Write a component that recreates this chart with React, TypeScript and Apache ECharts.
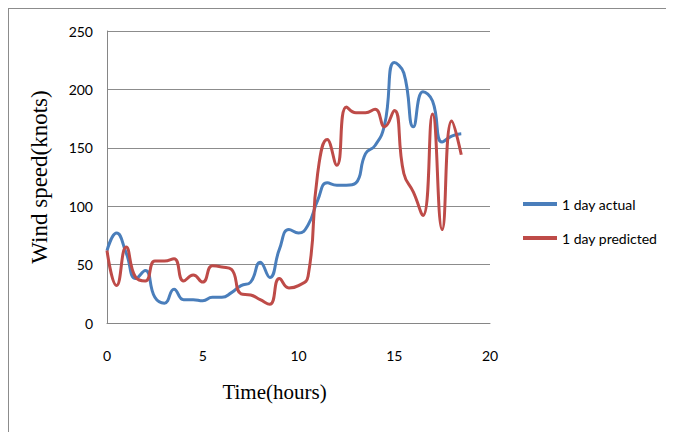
import React, { useEffect, useRef } from "react";
import * as echarts from "echarts";

// Hours, sampled every half hour
const hours: number[] = [
  0, 0.5, 1, 1.5, 2, 2.5, 3, 3.5, 4, 4.5, 5, 5.5, 6, 6.5, 7, 7.5, 8, 8.5, 9, 9.5,
  10, 10.5, 11, 11.5, 12, 12.5, 13, 13.5, 14, 14.5, 15, 15.5, 16, 16.5, 17, 17.5, 18, 18.5,
];

// Wind speed in knots
const actual: number[] = [
  62, 77, 60, 38, 45, 22, 17, 29, 20, 20, 19, 22, 22, 26, 32, 35, 52, 39, 63, 80,
  77, 84, 105, 120, 118, 118, 120, 145, 152, 170, 223, 214, 168, 198, 190, 155, 160, 162,
];

const predicted: number[] = [
  62, 32, 65, 39, 36, 53, 53, 55, 36, 41, 35, 49, 48, 46, 25, 24, 20, 16, 38, 30,
  32, 40, 128, 157, 135, 185, 180, 180, 183, 168, 182, 128, 112, 92, 179, 80, 173, 144,
];

const seriesNames = ["1 day actual", "1 day predicted"];
const seriesColors = ["#4a7ebb", "#be4b48"];

const xTicks = { min: 0, max: 20, interval: 5 };
const yTicks = { min: 0, max: 250, interval: 50 };

export default function App() {
  const ref = useRef<HTMLDivElement>(null);

  useEffect(() => {
    if (!ref.current) return;
    const chart = echarts.init(ref.current, undefined, { renderer: "svg" });
    const tickFont = "Lato, 'Open Sans', sans-serif";
    const titleFont = "'Liberation Serif', 'DejaVu Serif', serif";

    const toPairs = (ys: number[]) => hours.map((h, i) => [h, ys[i]]);

    chart.setOption({
      animation: false,
      backgroundColor: "#ffffff",
      grid: { left: 98, top: 22, width: 383, height: 292, containLabel: false },
      legend: {
        orient: "vertical",
        left: 509,
        top: 183,
        itemWidth: 34,
        itemHeight: 4,
        itemGap: 20,
        icon: "rect",
        textStyle: { fontFamily: tickFont, fontSize: 14, color: "#000" },
        data: seriesNames,
      },
      xAxis: {
        type: "value",
        min: xTicks.min,
        max: xTicks.max,
        interval: xTicks.interval,
        name: "Time(hours)",
        nameLocation: "middle",
        nameGap: 58,
        nameTextStyle: {
          fontFamily: titleFont,
          fontSize: 21,
          color: "#000",
          padding: [0, 48, 0, 0],
        },
        axisLine: { show: true, lineStyle: { color: "#868686", width: 1 } },
        axisTick: { show: false },
        axisLabel: { fontFamily: tickFont, fontSize: 14, color: "#000", margin: 25 },
        splitLine: { show: false },
      },
      yAxis: {
        type: "value",
        min: yTicks.min,
        max: yTicks.max,
        interval: yTicks.interval,
        name: "Wind speed(knots)",
        nameLocation: "middle",
        nameGap: 56,
        nameTextStyle: {
          fontFamily: titleFont,
          fontSize: 23,
          color: "#000",
        },
        axisLine: { show: true, lineStyle: { color: "#868686", width: 1 } },
        axisTick: { show: false },
        axisLabel: { fontFamily: tickFont, fontSize: 14, color: "#000", margin: 14 },
        splitLine: { show: true, lineStyle: { color: "#8c8c8c", width: 1 } },
      },
      series: [
        {
          name: seriesNames[0],
          type: "line",
          data: toPairs(actual),
          smooth: 0.5,
          showSymbol: false,
          lineStyle: { color: seriesColors[0], width: 3 },
          itemStyle: { color: seriesColors[0] },
        },
        {
          name: seriesNames[1],
          type: "line",
          data: toPairs(predicted),
          smooth: 0.5,
          showSymbol: false,
          lineStyle: { color: seriesColors[1], width: 3 },
          itemStyle: { color: seriesColors[1] },
        },
      ],
    });

    return () => chart.dispose();
  }, []);

  // Frame: only the top and left edges sit inside the page
  return (
    <div
      style={{
        width: 666,
        height: 424,
        boxSizing: "border-box",
        borderTop: "1px solid #8c8c8c",
        borderLeft: "1px solid #8c8c8c",
      }}
    >
      <div ref={ref} style={{ width: 665, height: 423 }} />
    </div>
  );
}
